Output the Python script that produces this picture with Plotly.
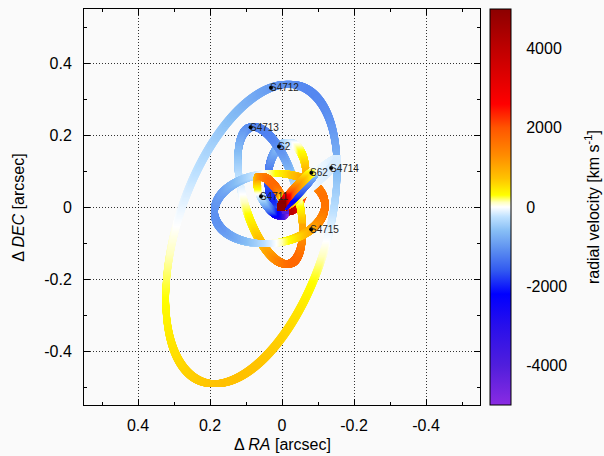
import numpy as np
import plotly.graph_objects as go

# ---------------- data (orbital elements, read / fitted from the figure) ----------------
stars = ["S2", "S62", "S4711", "S4712", "S4713", "S4714", "S4715"]
a_arcsec = [0.1255, 0.0905, 0.0756, 0.4516, 0.2075, 0.1027, 0.1542]
ecc = [0.8863, 0.976, 0.768, 0.358, 0.365, 0.985, 0.2235]
incl_deg = [134.18, 72.76, 114.71, 118.0, 68.4, 127.7, 130.3]
omega_deg = [66.13, 42.62, 131.59, 233.9, 59.0, 357.25, 357.95]
Omega_deg = [228.07, 122.61, 20.10, 164.2, 194.3, 129.28, 275.6]
period_yr = [16.0, 9.9, 7.6, 112.9, 35.2, 12.0, 22.5]
t_peri = [2018.38, 2003.33, 2017.31, 2036.0, 2009.1, 2010.67, 2017.15]
t_label = [2007.0, 2019.5, 2019.5, 2019.5, 2019.5, 2019.5, 2019.5]
draw_order = ["S4712", "S2", "S4713", "S4715", "S4711", "S4714", "S62"]

R0_PC = 8300.0
KMS_PER_AU_YR = 4.74047

x_tick_vals = [0.4, 0.2, 0.0, -0.2, -0.4]
x_tick_text = ["0.4", "0.2", "0", "-0.2", "-0.4"]
y_tick_vals = [-0.4, -0.2, 0.0, 0.2, 0.4]
y_tick_text = ["-0.4", "-0.2", "0", "0.2", "0.4"]
minor_vals = [-0.5, -0.3, -0.1, 0.1, 0.3, 0.5]
cbar_vals = [-4000, -2000, 0, 2000, 4000]
cbar_text = ["-4000", "-2000", "0", "2000", "4000"]
v_min, v_max = -5000, 5000

palette = [
    [0.000, "rgb(138,43,226)"],
    [0.100, "rgb(80,30,220)"],
    [0.200, "rgb(40,15,235)"],
    [0.280, "rgb(0,0,255)"],
    [0.340, "rgb(50,90,240)"],
    [0.390, "rgb(90,140,240)"],
    [0.440, "rgb(135,190,245)"],
    [0.475, "rgb(190,225,255)"],
    [0.500, "rgb(255,255,255)"],
    [0.512, "rgb(255,255,190)"],
    [0.530, "rgb(255,255,0)"],
    [0.572, "rgb(255,195,0)"],
    [0.630, "rgb(255,140,0)"],
    [0.700, "rgb(255,85,0)"],
    [0.760, "rgb(255,0,0)"],
    [0.900, "rgb(190,0,0)"],
    [1.000, "rgb(140,0,0)"],
]


def basis(inc, om, Om):
    i, w, W = np.radians([inc, om, Om])
    PN = np.cos(w) * np.cos(W) - np.sin(w) * np.sin(W) * np.cos(i)
    PE = np.cos(w) * np.sin(W) + np.sin(w) * np.cos(W) * np.cos(i)
    QN = -np.sin(w) * np.cos(W) - np.cos(w) * np.sin(W) * np.cos(i)
    QE = -np.sin(w) * np.sin(W) + np.cos(w) * np.cos(W) * np.cos(i)
    PZ = np.sin(w) * np.sin(i)
    QZ = np.cos(w) * np.sin(i)
    return PN, PE, PZ, QN, QE, QZ


def orbit(k, E):
    a, e = a_arcsec[k], ecc[k]
    PN, PE, PZ, QN, QE, QZ = basis(incl_deg[k], omega_deg[k], Omega_deg[k])
    X = np.cos(E) - e
    Y = np.sqrt(1 - e * e) * np.sin(E)
    north = a * (X * PN + Y * QN)
    east = a * (X * PE + Y * QE)
    n = 2 * np.pi / period_yr[k]
    a_au = a * R0_PC
    dzdE = -np.sin(E) * PZ + np.sqrt(1 - e * e) * np.cos(E) * QZ
    vz = a_au * n * dzdE / (1 - e * np.cos(E)) * KMS_PER_AU_YR
    return east, north, vz


def ecc_anomaly(k, t):
    e = ecc[k]
    M = 2 * np.pi * (((t - t_peri[k]) / period_yr[k]) % 1.0)
    E = np.pi if e > 0.8 else M
    for _ in range(100):
        E -= (E - e * np.sin(E) - M) / (1 - e * np.cos(E))
    return E


fig = go.Figure()
E_grid = np.linspace(0, 2 * np.pi, 3000)
for name in draw_order:
    k = stars.index(name)
    x, y, v = orbit(k, E_grid)
    fig.add_trace(go.Scatter(
        x=x, y=y, mode="markers", showlegend=False, hoverinfo="skip",
        marker=dict(symbol="square", size=6.5, color=v, coloraxis="coloraxis",
                    line=dict(width=0)),
    ))

lab_x, lab_y = [], []
for k, name in enumerate(stars):
    x, y, _ = orbit(k, np.array([ecc_anomaly(k, t_label[k])]))
    lab_x.append(float(x[0]))
    lab_y.append(float(y[0]))

fig.add_trace(go.Scatter(x=lab_x, y=lab_y, mode="markers", showlegend=False,
                         marker=dict(color="black", size=4), hoverinfo="skip"))

FONT = "Liberation Sans, Arial, Helvetica, sans-serif"
annotations = []
for k, name in enumerate(stars):
    annotations.append(dict(x=lab_x[k], y=lab_y[k], xref="x", yref="y", text=name,
                            showarrow=False, xanchor="left", yanchor="middle", xshift=-3,
                            font=dict(family=FONT, size=10, color="#222222")))

annotations += [
    dict(x=0.5, y=-0.101, xref="paper", yref="paper", text="Δ <i>RA</i> [arcsec]",
         showarrow=False, xanchor="center", yanchor="middle",
         font=dict(family=FONT, size=16, color="black")),
    dict(x=-0.167, y=0.5, xref="paper", yref="paper", text="Δ <i>DEC</i> [arcsec]",
         showarrow=False, xanchor="center", yanchor="middle", textangle=-90,
         font=dict(family=FONT, size=16, color="black")),
    dict(x=1.283, y=0.5, xref="paper", yref="paper",
         text="radial velocity [km s<sup>-1</sup>]",
         showarrow=False, xanchor="center", yanchor="middle", textangle=-90,
         font=dict(family=FONT, size=16, color="black")),
]

axis_common = dict(
    showline=True, linecolor="black", linewidth=1, mirror="ticks",
    ticks="inside", ticklen=6, tickcolor="black", tickwidth=1,
    showgrid=True, gridcolor="rgba(0,0,0,0.8)", griddash="1px,2px", gridwidth=1,
    zeroline=False, tickfont=dict(family=FONT, size=16, color="black"),
)

fig.update_layout(
    width=604, height=456,
    margin=dict(l=84, r=124, t=9, b=51, autoexpand=False),
    paper_bgcolor="#fafafa", plot_bgcolor="#fafafa",
    xaxis=dict(range=[0.55, -0.55], tickvals=x_tick_vals, ticktext=x_tick_text,
               minor=dict(tickvals=minor_vals, ticks="inside", ticklen=3,
                          tickcolor="black", showgrid=False),
               ticklabelstandoff=6, **axis_common),
    yaxis=dict(range=[-0.55, 0.55], tickvals=y_tick_vals, ticktext=y_tick_text,
               minor=dict(tickvals=minor_vals, ticks="inside", ticklen=3,
                          tickcolor="black", showgrid=False),
               ticklabelstandoff=8, **axis_common),
    coloraxis=dict(
        colorscale=palette, cmin=v_min, cmax=v_max,
        colorbar=dict(
            x=1.0253, xanchor="left", xpad=0, y=0.5, yanchor="middle", ypad=0,
            len=1.0, lenmode="fraction", thickness=21,
            outlinewidth=1, outlinecolor="black",
            tickvals=cbar_vals, ticktext=cbar_text,
            ticks="outside", ticklen=12, tickcolor="rgba(0,0,0,0)",
            tickfont=dict(family=FONT, size=16, color="black"),
        ),
    ),
    annotations=annotations,
)

fig.write_html("out.html",
               config={"displayModeBar": False},
               post_script="document.body.style.margin='0px';"
                           "document.body.style.background='#fafafa';")
